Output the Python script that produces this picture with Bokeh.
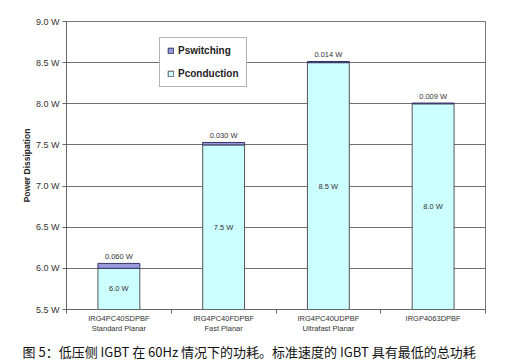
from bokeh.plotting import figure
from bokeh.models import (ColumnDataSource, FixedTicker, Range1d, Legend, LegendItem,
                          LinearAxis, Title)
from bokeh.core.properties import value
from bokeh.embed import file_html
from bokeh.resources import INLINE

parts = ["IRG4PC40SDPBF", "IRG4PC40FDPBF", "IRG4PC40UDPBF", "IRGP4063DPBF"]
types = ["Standard Planar", "Fast Planar", "Ultrafast Planar", ""]
p_conduction = [6.0, 7.5, 8.5, 8.0]
p_switching = [0.060, 0.030, 0.014, 0.009]
cond_labels = ["6.0 W", "7.5 W", "8.5 W", "8.0 W"]
sw_labels = ["0.060 W", "0.030 W", "0.014 W", "0.009 W"]
y_ticks = [5.5, 6.0, 6.5, 7.0, 7.5, 8.0, 8.5, 9.0]
y_min, y_max = 5.5, 9.0
caption = "图 5：低压侧 IGBT 在 60Hz 情况下的功耗。标准速度的 IGBT 具有最低的总功耗"

FONT = "Liberation Sans"
n = len(parts)
xs = [i + 0.5 for i in range(n)]
src = ColumnDataSource(dict(
    x=xs,
    base=[y_min] * n,
    cond=p_conduction,
    top=[c + s for c, s in zip(p_conduction, p_switching)],
    cond_mid=[(y_min + c) / 2 for c in p_conduction],
    cond_lab=cond_labels,
    sw_lab=sw_labels,
))

p = figure(width=507, height=363, output_backend="svg", toolbar_location=None,
           x_range=Range1d(0, n), y_range=Range1d(y_min, y_max),
           min_border_left=66, min_border_right=22, min_border_top=21, min_border_bottom=0)
p.background_fill_color = "white"
p.border_fill_color = "white"
p.outline_line_color = "#777777"

r_cond = p.vbar(x="x", bottom="base", top="cond", width=0.4, source=src,
                fill_color="#ccffff", line_color="#555555", line_width=1)
r_sw = p.vbar(x="x", bottom="cond", top="top", width=0.4, source=src,
              fill_color="#9999dd", line_color="#333366", line_width=1)

p.text(x="x", y="cond_mid", text="cond_lab", source=src, text_font=value(FONT),
       text_font_size="7.5px", text_color="#333333", text_align="center", text_baseline="middle")
p.text(x="x", y="top", text="sw_lab", source=src, text_font=value(FONT),
       text_font_size="7.5px", text_color="#333333", text_align="center", text_baseline="bottom",
       y_offset=-2)

# y axis
p.yaxis.ticker = FixedTicker(ticks=y_ticks)
p.yaxis.major_label_overrides = {t: f"{t:.1f} W" for t in y_ticks}
p.yaxis.major_label_text_font = FONT
p.yaxis.major_label_text_font_size = "9px"
p.yaxis.major_label_text_color = "#333333"
p.yaxis.major_tick_out = 4
p.yaxis.major_tick_in = 0
p.yaxis.minor_tick_line_color = None
p.yaxis.axis_line_color = "#666666"
p.yaxis.major_tick_line_color = "#666666"
p.yaxis.major_label_standoff = 3
p.yaxis.axis_label = "Power Dissipation"
p.yaxis.axis_label_text_font = FONT
p.yaxis.axis_label_text_font_size = "8.5px"
p.yaxis.axis_label_text_font_style = "bold"
p.yaxis.axis_label_text_color = "#222222"
p.yaxis.axis_label_standoff = 1

# x axis: tick marks at category boundaries
p.xaxis.ticker = FixedTicker(ticks=list(range(n + 1)))
p.xaxis.major_label_overrides = {i: "" for i in range(n + 1)}
p.xaxis.major_label_text_font_size = "1px"
p.xaxis.major_label_standoff = 0
p.xaxis.major_tick_out = 4
p.xaxis.major_tick_in = 0
p.xaxis.minor_tick_line_color = None
p.xaxis.axis_line_color = "#666666"
p.xaxis.major_tick_line_color = "#666666"

# second axis with category labels at centers
lab_axis = LinearAxis(ticker=FixedTicker(ticks=xs),
                      major_label_overrides={x: (pt + ("\n" + tp if tp else ""))
                                             for x, pt, tp in zip(xs, parts, types)},
                      major_label_text_font=FONT, major_label_text_font_size="7.5px",
                      major_label_text_color="#333333", major_label_standoff=0,
                      major_tick_out=0, major_tick_in=0, minor_tick_line_color=None,
                      axis_line_color=None, major_tick_line_color=None)
p.add_layout(lab_axis, "below")

p.xgrid.grid_line_color = None
p.ygrid.grid_line_color = "#707070"
p.ygrid.ticker = FixedTicker(ticks=y_ticks)

legend = Legend(items=[LegendItem(label="Pswitching", renderers=[r_sw]),
                       LegendItem(label="Pconduction", renderers=[r_cond])],
                location=(93, 222), label_text_font=FONT, label_text_font_size="10px",
                label_text_font_style="bold", label_text_color="#222222",
                glyph_width=7, glyph_height=7, spacing=12, padding=7, margin=0,
                label_standoff=4, border_line_color="#666666",
                background_fill_color="white", background_fill_alpha=1)
p.add_layout(legend)

p.add_layout(Title(text=caption, align="left", offset=-44, text_font="Noto Sans CJK SC",
                   text_font_size="13px", text_font_style="normal", text_color="#111111",
                   standoff=6), "below")

open("out.html", "w").write(file_html(p, INLINE))
